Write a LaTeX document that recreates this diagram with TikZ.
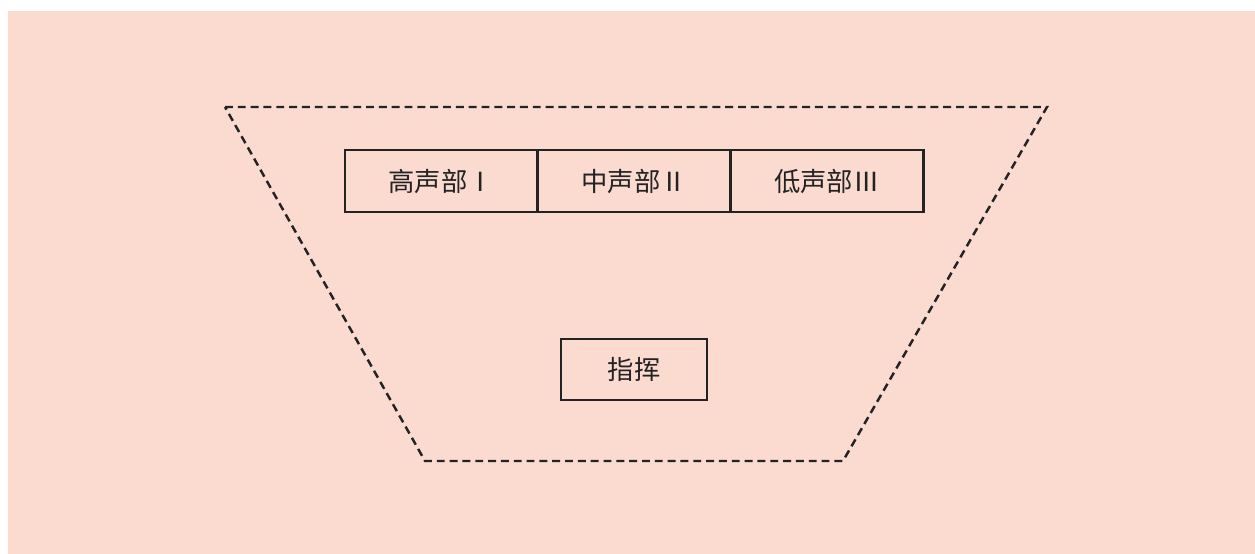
\documentclass[tikz,border=0pt]{standalone}
\usepackage{fontspec}
\newfontfamily\cjk{Noto Sans CJK SC}
\usepackage{xcolor}
\usepackage{tikz}
\usetikzlibrary{positioning, calc}
\definecolor{stagepink}{RGB}{251, 218, 208}
\definecolor{inkgray}{RGB}{35, 35, 35}

\begin{document}
\begin{tikzpicture}[x=0.02cm, y=-0.02cm,
    part/.style={draw=inkgray, line width=1.2pt, minimum width=3.86cm,
                 minimum height=1.24cm, inner sep=0pt,
                 font=\cjk\fontsize{15}{17}\selectfont, text=inkgray},
    stageline/.style={inkgray, line width=1.4pt, dash pattern=on 4.5pt off 2.8pt}]
    \useasboundingbox (0,0) rectangle (1255,554);
    \fill[white] (0,0) rectangle (1255,554);
    \fill[stagepink] (8,11) rectangle (1255,554);
    % stage outline
    \coordinate (TL) at (225,107);
    \coordinate (TR) at (1047,107);
    \coordinate (BR) at (843,461);
    \coordinate (BL) at (425,461);
    \draw[stageline] (TL)--(TR)--(BR)--(BL)--cycle;
    % voice parts
    \node[part] (mid) at (634,181) {中声部Ⅱ};
    \node[part, left=-1.2pt of mid] (high) {高声部Ⅰ};
    \node[part, right=-1.2pt of mid] (low) {低声部Ⅲ};
    % conductor
    \node[part, minimum width=2.92cm, minimum height=1.22cm] (cond)
        at (634,369.5) {指挥};
\end{tikzpicture}
\end{document}
